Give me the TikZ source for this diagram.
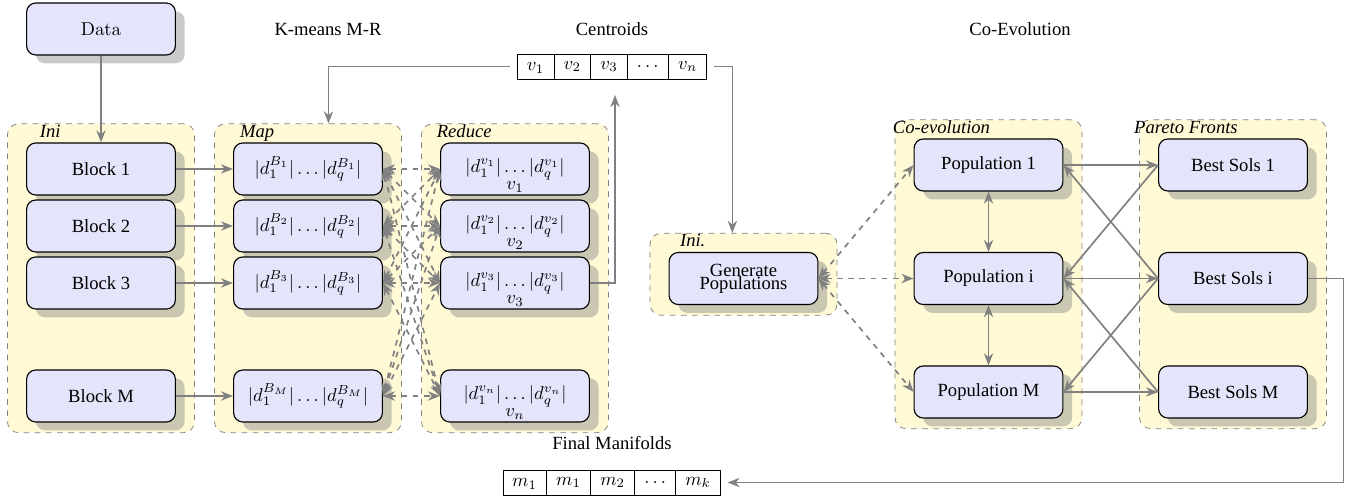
\documentclass[tikz,border=0pt]{standalone}
\usepackage[no-math]{fontspec}
\setmainfont{Liberation Serif}
\usetikzlibrary{arrows.meta,shapes.multipart,shadows,fit,backgrounds}

\definecolor{boxfill}{RGB}{228,228,250}
\definecolor{grpfill}{RGB}{255,249,214}

\begin{document}
\begin{tikzpicture}[x=0.5375pt, y=-0.5375pt, >={Stealth[length=6.5pt,width=5pt]},
  box/.style={draw, semithick, rounded corners=5pt, fill=boxfill, minimum width=80pt, minimum height=28pt, align=center, drop shadow={shadow xshift=5pt, shadow yshift=-4.5pt, opacity=0.42}},
  grp/.style={draw=gray, dashed, rounded corners=6pt, fill=grpfill, inner sep=0pt},
  grplabel/.style={anchor=base, font=\itshape},
  arr/.style={draw=gray, line width=0.9pt, ->},
  darr/.style={draw=gray, line width=0.9pt, dashed, <->},
  vecbox/.style={draw, rectangle split, rectangle split horizontal, rectangle split parts=5, inner xsep=5pt, inner ysep=3pt, text height=6pt, text depth=1.5pt, outer sep=4pt}]
\useasboundingbox (0,0) rectangle (1359,502);

% titles
\node (kmlab) at (328,29) {K-means M-R};
\node (centlab) at (612,29) {Centroids};
\node (coevlab) at (1020,29) {Co-Evolution};
\node (manlab) at (612,443) {Final Manifolds};

% data and blocks
\node[box] (data) at (101,29) {$\mathrm{Data}$};
\node[box] (b1) at (101,169) {Block 1};
\node[box] (b2) at (101,226) {Block 2};
\node[box] (b3) at (101,283) {Block 3};
\node[box] (bM) at (101,396) {Block M};

% map
\node[box] (m1) at (308,169) {$|d_1^{B_1}|\ldots|d_q^{B_1}|$};
\node[box] (m2) at (308,226) {$|d_1^{B_2}|\ldots|d_q^{B_2}|$};
\node[box] (m3) at (308,283) {$|d_1^{B_3}|\ldots|d_q^{B_3}|$};
\node[box] (mM) at (308,396) {$|d_1^{B_M}|\ldots|d_q^{B_M}|$};

% reduce
\node[box] (r1) at (515,169) {$|d_1^{v_1}|\ldots|d_q^{v_1}|$};
\node[box] (r2) at (515,226) {$|d_1^{v_2}|\ldots|d_q^{v_2}|$};
\node[box] (r3) at (515,283) {$|d_1^{v_3}|\ldots|d_q^{v_3}|$};
\node[box] (rn) at (515,396) {$|d_1^{v_n}|\ldots|d_q^{v_n}|$};
\node (v1) at ([yshift=-9.5pt]r1.center) {$v_1$};
\node (v2) at ([yshift=-9.5pt]r2.center) {$v_2$};
\node (v3) at ([yshift=-9.5pt]r3.center) {$v_3$};
\node (vn) at ([yshift=-9.5pt]rn.center) {$v_n$};

% centroids and manifolds
\node[vecbox] (cent) at (612,66.5) {$v_1$\nodepart{two}$v_2$\nodepart{three}$v_3$\nodepart{four}$\ldots$\nodepart{five}$v_n$};
\node[vecbox] (man) at (611.5,482.5) {$m_1$\nodepart{two}$m_1$\nodepart{three}$m_2$\nodepart{four}$\ldots$\nodepart{five}$m_k$};

% co-evolution
\node[box] (gen) at (743.5,278.5) {Generate\\[-5pt]Populations};
\node[box] (p1) at (988.5,165) {Population 1};
\node[box] (pi) at (988.5,278.5) {Population i};
\node[box] (pM) at (988.5,392) {Population M};
\node[box] (s1) at (1233,165) {Best Sols 1};
\node[box] (si) at (1233,278.5) {Best Sols i};
\node[box] (sM) at (1233,392) {Best Sols M};

% groups
\begin{scope}[on background layer]
\node[grp, fit={([shift={(-10pt,10pt)}]b1.north west) ([shift={(10pt,-5.4pt)}]bM.south east)}] (inigrp) {};
\node[grp, fit={([shift={(-10pt,10pt)}]m1.north west) ([shift={(10pt,-5.4pt)}]mM.south east)}] (mapgrp) {};
\node[grp, fit={([shift={(-10pt,10pt)}]r1.north west) ([shift={(10pt,-5.4pt)}]rn.south east)}] (redgrp) {};
\node[grp, fit={([shift={(-10pt,10pt)}]gen.north west) ([shift={(10pt,-5.4pt)}]gen.south east)}] (gengrp) {};
\node[grp, fit={([shift={(-10pt,10pt)}]p1.north west) ([shift={(10pt,-5.4pt)}]pM.south east)}] (popgrp) {};
\node[grp, fit={([shift={(-10pt,10pt)}]s1.north west) ([shift={(10pt,-5.4pt)}]sM.south east)}] (solgrp) {};
\end{scope}
\node[grplabel] (inilab) at ([shift={(13pt,2.7pt)}]b1.north west) {Ini};
\node[grplabel] (maplab) at ([shift={(13pt,2.7pt)}]m1.north west) {Map};
\node[grplabel] (redlab) at ([shift={(13pt,2.7pt)}]r1.north west) {Reduce};
\node[grplabel] (genlab) at ([shift={(13pt,2.7pt)}]gen.north west) {Ini.};
\node[grplabel] (poplab) at ([shift={(15pt,2.7pt)}]p1.north west) {Co-evolution};
\node[grplabel] (sollab) at ([shift={(15pt,2.7pt)}]s1.north west) {Pareto Fronts};

% connectors
\draw[arr] (data) -- (b1);
\foreach \k in {1,2,3,M} \draw[arr] (b\k) -- (m\k);
\foreach \k in {1,2,3,M}
  \foreach \j in {1,2,3,n}
    \draw[darr] (m\k.east) -- (r\j.west);
\coordinate (cin) at (615,95);
\draw[arr] (r3.east) -| (cin);
\draw[arr] (cent.west) -| ([xshift=11pt]mapgrp.north);
\draw[arr] (cent.east) -| ([xshift=-6pt]gengrp.north);
\foreach \p in {1,i,M} \draw[darr] (gen.east) -- (p\p.west);
\draw[draw=gray, line width=0.9pt, <->] (p1) -- (pi);
\draw[draw=gray, line width=0.9pt, <->] (pi) -- (pM);
\foreach \p in {1,i,M} \draw[arr] (p\p.east) -- (s\p.west);
\draw[arr] (s1.west) -- (pi.east);
\draw[arr] (si.west) -- (p1.east);
\draw[arr] (si.west) -- (pM.east);
\draw[arr] (sM.west) -- (pi.east);
\draw[arr] (si.east) -- ++(19pt,0) |- (man.east);
\end{tikzpicture}
\end{document}
